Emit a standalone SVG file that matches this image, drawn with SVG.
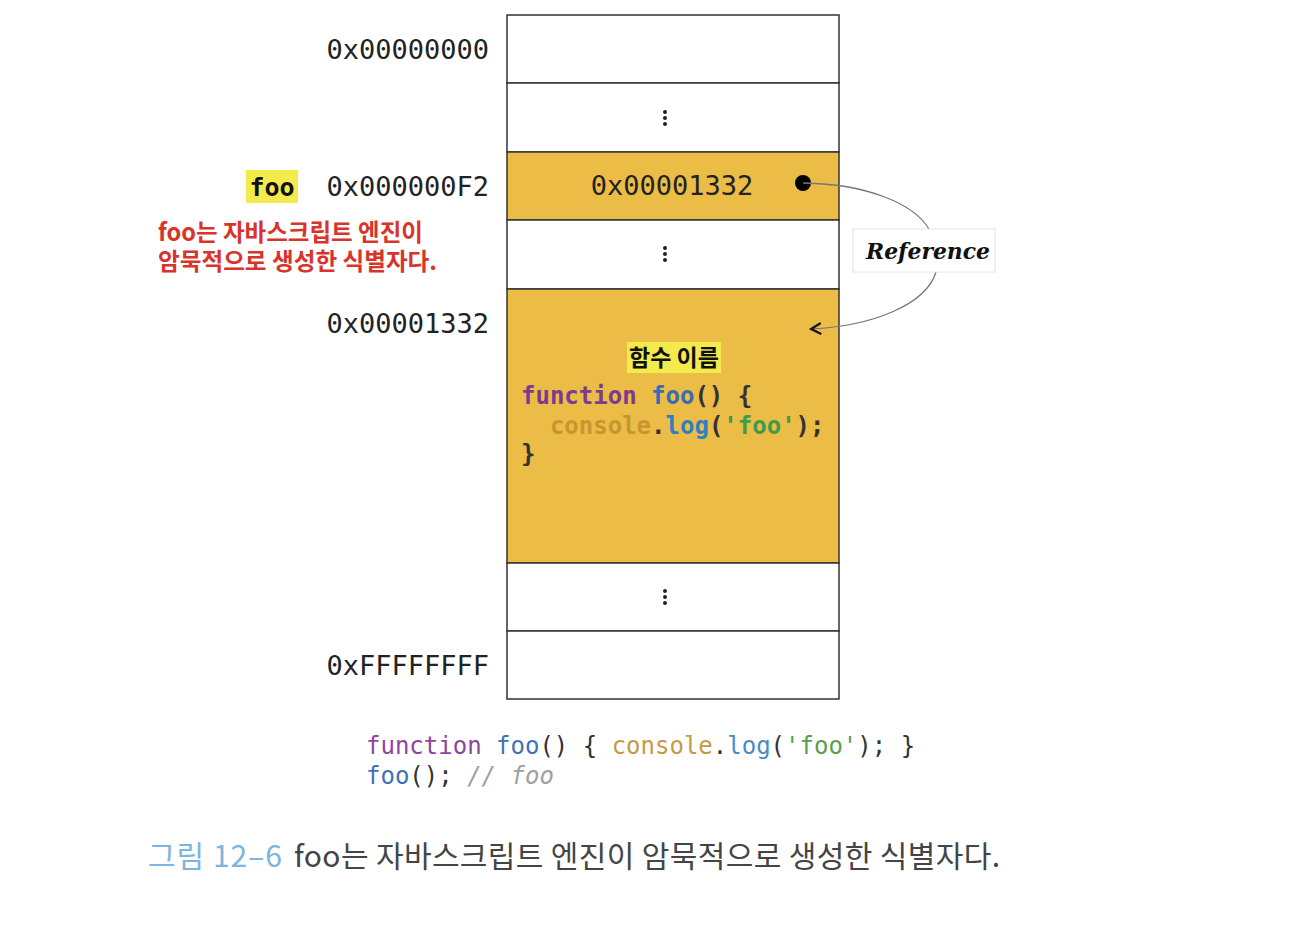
<svg xmlns="http://www.w3.org/2000/svg" width="1298" height="938" viewBox="0 0 1298 938">
<defs>
<style>
.mono{font-family:"DejaVu Sans Mono","Liberation Mono",monospace;}
.addr{font-size:27px;fill:#222;}
.cell{stroke:#333;stroke-width:1.5;}
.white{fill:#ffffff;}
.yel{fill:#EBBC46;}
.dot{fill:#222;}
.kr{font-family:"Noto Sans CJK KR","Noto Sans",sans-serif;}
.code{font-size:24px;font-weight:bold;}
.bcode{font-size:24px;}
</style>
<marker id="chev" viewBox="0 0 14 14" refX="12" refY="7" markerWidth="14" markerHeight="14" markerUnits="userSpaceOnUse" orient="auto">
<path d="M2,1.5 L12,7 L2,12.5" fill="none" stroke="#111" stroke-width="2.2"/>
</marker>
</defs>
<rect width="1298" height="938" fill="#ffffff"/>

<g id="memory">
<g id="row0"><rect class="cell white" x="507" y="15" width="332" height="68"/></g>
<g id="row1"><rect class="cell white" x="507" y="83" width="332" height="69"/>
<circle class="dot" cx="665" cy="112" r="2"/><circle class="dot" cx="665" cy="118" r="2"/><circle class="dot" cx="665" cy="124" r="2"/></g>
<g id="row2"><rect class="cell yel" x="507" y="152" width="332" height="68"/>
<text class="mono addr" x="672" y="195" text-anchor="middle">0x00001332</text>
<circle cx="803" cy="183" r="8" fill="#000"/></g>
<g id="row3"><rect class="cell white" x="507" y="220" width="332" height="69"/>
<circle class="dot" cx="665" cy="248" r="2"/><circle class="dot" cx="665" cy="254" r="2"/><circle class="dot" cx="665" cy="260" r="2"/></g>
<g id="row4"><rect class="cell yel" x="507" y="289" width="332" height="274"/>
<rect x="627" y="342" width="94" height="31" fill="#F3EA4C"/>
<text class="kr" x="674" y="366" font-size="23" font-weight="bold" fill="#111" text-anchor="middle">함수 이름</text>
<text class="mono code" x="521" y="404"><tspan fill="#7d3a8e">function</tspan><tspan fill="#3a6cb4"> foo</tspan><tspan fill="#333">() {</tspan></text>
<text class="mono code" x="521" y="434" xml:space="preserve"><tspan fill="#333">  </tspan><tspan fill="#C8962F">console</tspan><tspan fill="#333">.</tspan><tspan fill="#2f7fc2">log</tspan><tspan fill="#333">(</tspan><tspan fill="#3f9a4a">'foo'</tspan><tspan fill="#333">);</tspan></text>
<text class="mono code" x="521" y="462" fill="#333">}</text></g>
<g id="row5"><rect class="cell white" x="507" y="563" width="332" height="68"/>
<circle class="dot" cx="665" cy="591" r="2"/><circle class="dot" cx="665" cy="597" r="2"/><circle class="dot" cx="665" cy="603" r="2"/></g>
<g id="row6"><rect class="cell white" x="507" y="631" width="332" height="68"/></g>
</g>

<g id="addresses">
<text class="mono addr" x="489" y="59" text-anchor="end">0x00000000</text>
<text class="mono addr" x="489" y="196" text-anchor="end">0x000000F2</text>
<text class="mono addr" x="489" y="333" text-anchor="end">0x00001332</text>
<text class="mono addr" x="489" y="675" text-anchor="end">0xFFFFFFFF</text>
</g>

<g id="foo-label">
<rect x="246" y="170" width="52" height="33" fill="#F3EA4C"/>
<text class="mono" x="272" y="196" font-size="25" font-weight="bold" fill="#111" text-anchor="middle">foo</text>
</g>

<g id="note">
<text class="kr" x="158" y="241" font-size="24" font-weight="bold" fill="#D9342B" textLength="265" lengthAdjust="spacingAndGlyphs">foo는 자바스크립트 엔진이</text>
<text class="kr" x="158" y="270" font-size="24" font-weight="bold" fill="#D9342B" textLength="279" lengthAdjust="spacingAndGlyphs">암묵적으로 생성한 식별자다.</text>
</g>

<g id="connectors">
<path d="M803,183 C868,184 914,204 929,229" fill="none" stroke="#777" stroke-width="1.3"/>
<path d="M936,272 C926,305 872,326 811,329" fill="none" stroke="#777" stroke-width="1.3" marker-end="url(#chev)"/>
</g>

<g id="reference-label">
<rect x="853" y="229" width="142" height="43" fill="#ffffff" stroke="#e4e4e4" stroke-width="1"/>
<text x="866" y="259" font-family="'DejaVu Serif','Liberation Serif',serif" font-size="23" font-weight="bold" font-style="italic" fill="#111" textLength="124" lengthAdjust="spacingAndGlyphs">Reference</text>
</g>

<g id="source-code">
<text class="mono bcode" x="366" y="754" xml:space="preserve"><tspan fill="#8e44a0">function</tspan><tspan fill="#3d72b8"> foo</tspan><tspan fill="#333">() { </tspan><tspan fill="#C49A45">console</tspan><tspan fill="#333">.</tspan><tspan fill="#4a8bc4">log</tspan><tspan fill="#333">(</tspan><tspan fill="#5a9e4e">'foo'</tspan><tspan fill="#333">); }</tspan></text>
<text class="mono bcode" x="366" y="784" xml:space="preserve"><tspan fill="#3d72b8">foo</tspan><tspan fill="#333">(); </tspan><tspan fill="#a0a0a0" font-style="italic">// foo</tspan></text>
</g>

<g id="caption">
<text class="kr" x="148" y="867" font-size="30" fill="#7EB4DD" textLength="134" lengthAdjust="spacing">그림 12–6</text>
<text class="kr" x="294" y="867" font-size="30" fill="#444" textLength="706" lengthAdjust="spacing">foo는 자바스크립트 엔진이 암묵적으로 생성한 식별자다.</text>
</g>
</svg>
